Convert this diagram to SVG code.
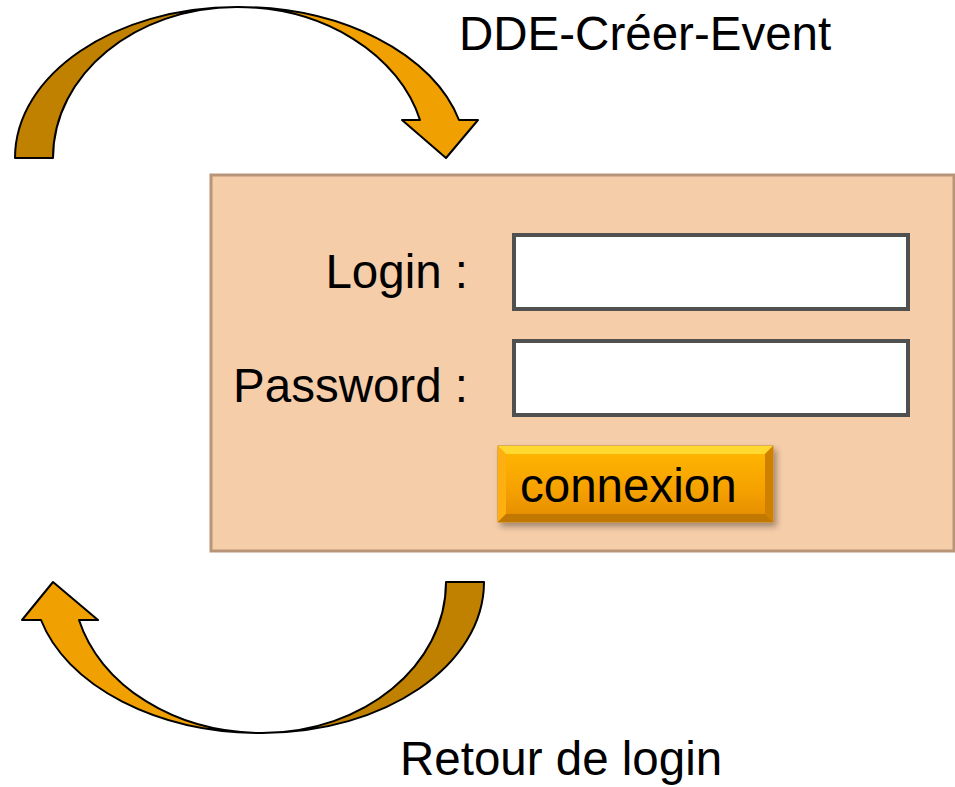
<svg xmlns="http://www.w3.org/2000/svg" width="955" height="787" viewBox="0 0 955 787">
<style>
.txt{font-family:"Liberation Sans",Arial,sans-serif;font-size:47.5px;fill:#000}
.back{fill:#C08000;stroke:#000;stroke-width:2;stroke-linejoin:round}
.front{fill:#F0A000;stroke:#000;stroke-width:2;stroke-linejoin:round}
.field{fill:#fff;stroke:#505050;stroke-width:4}
</style>
<defs>
<linearGradient id="btn" x1="0" y1="0" x2="0" y2="1">
<stop offset="0" stop-color="#FFB800"/>
<stop offset="0.6" stop-color="#F5A000"/>
<stop offset="1" stop-color="#E08A00"/>
</linearGradient>
<filter id="sh" x="-10%" y="-20%" width="130%" height="160%">
<feDropShadow dx="3" dy="4" stdDeviation="3" flood-color="#000" flood-opacity="0.35"/>
</filter>
</defs>
<g id="connectors">
<g id="arrow-top">
<path class="back" d="M15,158 C15,74.6 114.4,7 237,7 C135.4,7 53,74.6 53,158 Z"/>
<path class="front" d="M237,7 A228 151 0 0 1 459,120 L478,120 L446,158 L402,120 L420,120 A189 151 0 0 0 237,7 Z"/>
</g>
<g id="arrow-bottom">
<path class="back" d="M484,582 C484,665.4 384.6,733 262,733 C363.6,733 446,665.4 446,582 Z"/>
<path class="front" d="M262,733 A228 151 0 0 1 41,620 L22,620 L53,582 L98,620 L79,620 A189 151 0 0 0 262,733 Z"/>
</g>
</g>
<g id="label-top"><text class="txt" x="459" y="50">DDE-Créer-Event</text></g>
<g id="label-bottom"><text class="txt" x="400" y="775">Retour de login</text></g>
<g id="form">
<rect x="211" y="175" width="743" height="376" fill="#F5CDA9" stroke="#B89478" stroke-width="3"/>
<text class="txt" x="468" y="288" text-anchor="end">Login :</text>
<rect class="field" x="514" y="235" width="394" height="74"/>
<text class="txt" x="468" y="402" text-anchor="end">Password :</text>
<rect class="field" x="514" y="341" width="394" height="74"/>
</g>
<g id="button">
<g filter="url(#sh)">
<rect x="498" y="446" width="275" height="76" fill="url(#btn)" stroke="#C88A10" stroke-width="1"/>
</g>
<polygon points="498,446 773,446 765,454 506,454" fill="#FFD830"/>
<polygon points="498,446 506,454 506,514 498,522" fill="#FFB010"/>
<polygon points="773,446 773,522 765,514 765,454" fill="#D08000"/>
<polygon points="498,522 773,522 765,514 506,514" fill="#C07800"/>
<text class="txt" x="520" y="502">connexion</text>
</g>
</svg>
